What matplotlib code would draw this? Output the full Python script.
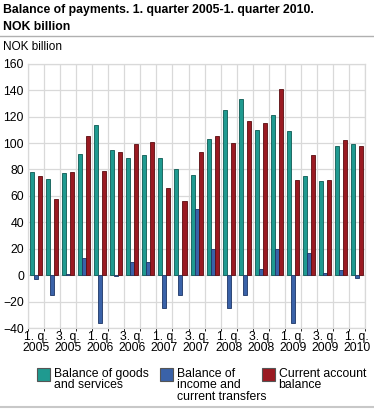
import matplotlib.pyplot as plt
import numpy as np
from matplotlib.lines import Line2D

plt.rcParams['font.family'] = ['Liberation Sans', 'DejaVu Sans']

quarters = ["1. q.\n2005", "2. q.\n2005", "3. q.\n2005", "4. q.\n2005",
            "1. q.\n2006", "2. q.\n2006", "3. q.\n2006", "4. q.\n2006",
            "1. q.\n2007", "2. q.\n2007", "3. q.\n2007", "4. q.\n2007",
            "1. q.\n2008", "2. q.\n2008", "3. q.\n2008", "4. q.\n2008",
            "1. q.\n2009", "2. q.\n2009", "3. q.\n2009", "4. q.\n2009",
            "1. q.\n2010"]
goods = [78, 73, 77, 92, 114, 95, 89, 91, 89, 80, 76, 103, 125, 133, 110, 121, 109, 75, 71, 98, 99]
income = [-3, -15, 1, 13, -36, -1, 10, 10, -25, -15, 50, 20, -25, -15, 5, 20, -36, 17, 2, 4, -2]
current = [75, 58, 78, 105, 79, 93, 99, 101, 66, 56, 93, 105, 100, 117, 115, 141, 72, 91, 72, 102, 98]

labels = ["Balance of goods\nand services", "Balance of\nincome and\ncurrent transfers",
          "Current account\nbalance"]
colors = ["#1f9a90", "#3a62a8", "#9a1a22"]
edges = ["#0c5a52", "#1d3566", "#5a0c10"]

fig = plt.figure(figsize=(3.74, 4.09), dpi=100)
ax = fig.add_axes([0.075, 0.198, 0.901, 0.646])

x = np.arange(len(quarters))
w = 0.25
for i, (vals, c, e) in enumerate(zip([goods, income, current], colors, edges)):
    ax.bar(x + (i - 1) * w, vals, w, color=c, edgecolor=e, linewidth=0.6, zorder=3)

ax.set_xlim(-0.5, len(quarters) - 0.5)
ax.set_ylim(-40, 160)
ax.set_yticks(np.arange(-40, 161, 20))
ax.set_xticks(x[::2])
ax.set_xticklabels(quarters[::2], fontsize=8.8, linespacing=0.95)
ax.tick_params(axis='y', labelsize=8.8, length=0, pad=3)
ax.tick_params(axis='x', length=0, pad=2)
ax.set_xticks(np.arange(-0.5, len(quarters), 1), minor=True)
ax.grid(axis='y', color='#d9d9d9', linewidth=0.9, zorder=0)
ax.grid(axis='x', which='minor', color='#d9d9d9', linewidth=0.9, zorder=0)
ax.grid(axis='x', which='major', visible=False)
for s in ax.spines.values():
    s.set_color('#d9d9d9')
    s.set_linewidth(0.9)

# title, two lines
fig.text(0.008, 0.968, "Balance of payments. 1. quarter 2005-1. quarter 2010.",
         fontsize=8.8, fontweight='bold', va='baseline', ha='left')
fig.text(0.008, 0.927, "NOK billion", fontsize=8.8, fontweight='bold', va='baseline', ha='left')
fig.add_artist(Line2D([0, 1], [0.912, 0.912], color='#b0b0b0', linewidth=1))
fig.text(0.008, 0.885, "NOK billion", fontsize=8.5, va='center', ha='left')
fig.add_artist(Line2D([0, 1], [0.005, 0.005], color='#c8c8c8', linewidth=1.5))

# legend below the plot
xs = [0.099, 0.428, 0.70]
for lab, xp, c in zip(labels, xs, colors):
    fig.patches.append(plt.Rectangle((xp, 0.068), 0.035, 0.032, transform=fig.transFigure,
                                     facecolor=c, edgecolor='#555555', linewidth=0.8))
    fig.text(xp + 0.045, 0.101, lab, fontsize=8.8, va='top', ha='left', linespacing=0.95)

fig.savefig("out.png", dpi=100)
